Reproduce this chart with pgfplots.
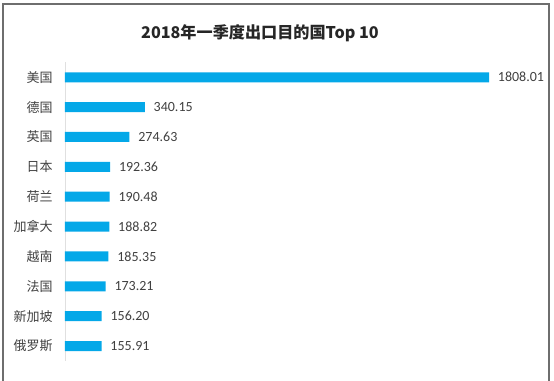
\documentclass[border=0pt]{standalone}
\usepackage{pgfplots}
\pgfplotsset{compat=1.18}
\usepackage{fontspec}
\setmainfont{Carlito}
\newfontfamily\cjk{Noto Sans CJK SC}
\definecolor{barblue}{RGB}{4,168,232}
\definecolor{txt}{RGB}{64,64,64}
\definecolor{framegray}{RGB}{110,110,110}
\begin{document}
\begin{tikzpicture}
\useasboundingbox (0pt,0pt) rectangle (415.5pt,285.75pt);
\draw[color=framegray, line width=1.1pt] (2.25pt,0pt) -- (2.25pt,282.75pt) -- (411.75pt,282.75pt) -- (411.75pt,0pt);
\node[font=\cjk\bfseries\fontsize{12.1}{14}\selectfont, color=black!85] at (195pt,261pt) {2018年一季度出口目的国Top 10};
\begin{axis}[
  at={(48.75pt,15pt)}, anchor=south west,
  scale only axis, width=318pt, height=224pt,
  xbar, bar width=7.5pt,
  xmin=0, xmax=1808.01, ymin=-0.5, ymax=9.5,
  clip=false,
  axis x line=none,
  axis y line=left,
  axis line style={-, draw=black!12, line width=0.6pt},
  ytick={0,...,9},
  yticklabels={俄罗斯,新加坡,法国,越南,加拿大,荷兰,日本,英国,德国,美国},
  yticklabel style={font=\cjk\fontsize{9.75}{12}\selectfont, color=txt, inner sep=0pt, xshift=-9pt},
  major tick length=0pt,
  ytick style={draw=none},
  point meta=x,
  nodes near coords={\pgfmathprintnumber[fixed,zerofill,precision=2,1000 sep={},assume math mode=true]{\pgfplotspointmeta}},
  nodes near coords align={horizontal},
  every node near coord/.append style={font=\fontsize{10.5}{12}\selectfont, color=txt, anchor=west, inner sep=0pt, xshift=6.5pt},
]
\addplot[fill=barblue, draw=none] coordinates {
(155.91,0) (156.20,1) (173.21,2) (185.35,3) (188.82,4) (190.48,5) (192.36,6) (274.63,7) (340.15,8) (1808.01,9)
};
\end{axis}
\end{tikzpicture}
\end{document}
